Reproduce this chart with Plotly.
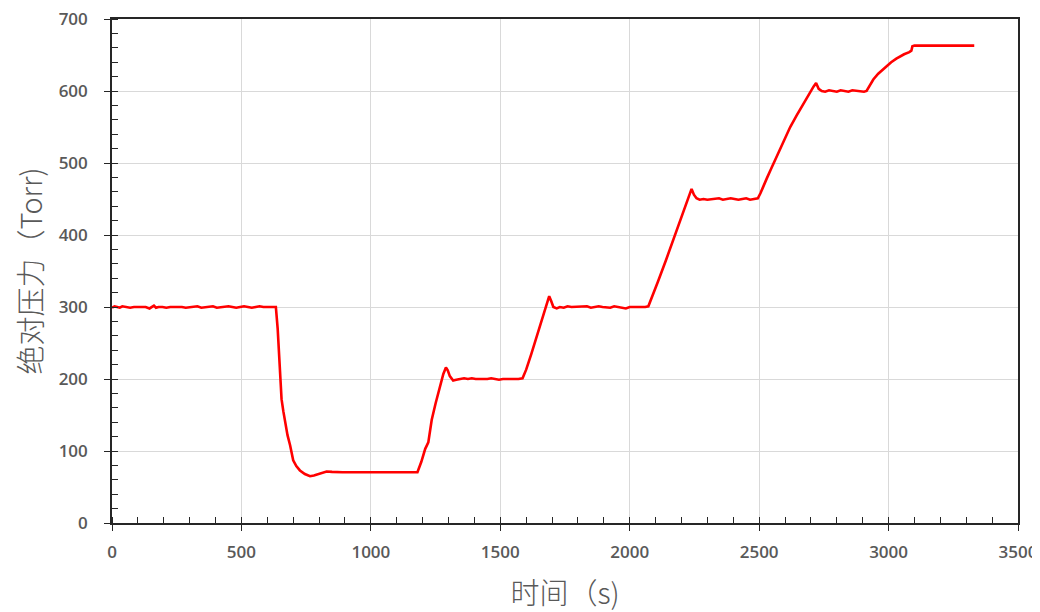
import plotly.graph_objects as go

# time (s)
time_s = [
    0, 10, 20, 30, 40, 55, 70, 85, 100, 115, 130, 145, 155, 162, 170, 180, 195, 210, 225, 240,
    255, 270, 285, 300, 315, 330, 345, 360, 375, 390, 405, 420, 435, 450, 465, 480, 495, 510,
    525, 540, 555, 570, 585, 600, 615, 625, 633,
    640, 645, 649, 655, 662, 668, 678, 688, 700, 712, 726, 745, 765, 780, 795, 812, 829, 850,
    868, 890, 920, 950, 980, 1010, 1040, 1060, 1080, 1100, 1120, 1140, 1160, 1180,
    1195, 1210, 1222, 1228, 1235, 1250, 1265, 1280, 1290, 1297, 1305, 1318, 1330, 1345,
    1360, 1375, 1390, 1405, 1420, 1435, 1450, 1465, 1480, 1495, 1510, 1525, 1540, 1555, 1570, 1586,
    1600, 1620, 1640, 1660, 1680, 1689, 1697, 1705, 1718, 1730, 1745,
    1760, 1775, 1790, 1805, 1820, 1835, 1850, 1865, 1880, 1895, 1910, 1925, 1940, 1955, 1970,
    1985, 2000, 2015, 2030, 2045, 2060, 2072,
    2080, 2110, 2140, 2170, 2200, 2225, 2239, 2248, 2258, 2270,
    2285, 2300, 2315, 2330, 2345, 2360, 2375, 2390, 2405, 2420, 2435, 2450, 2465, 2480, 2495,
    2505, 2515, 2530, 2545, 2560, 2580, 2600, 2620, 2645, 2670, 2695, 2710, 2720, 2730, 2742,
    2755, 2770, 2785, 2800, 2815, 2830, 2845, 2860, 2875, 2890, 2905, 2915,
    2925, 2941, 2960, 2975, 2993, 3010, 3030, 3044, 3060, 3080, 3088, 3092, 3100,
    3120, 3140, 3160, 3180, 3200, 3220, 3240, 3260, 3280, 3300, 3331,
]

# absolute pressure (Torr)
pressure_torr = [
    299, 301, 300, 299, 301, 300, 299, 300, 300, 299, 300, 298, 300, 302, 299, 300, 300, 299, 300, 300,
    301, 300, 299, 300, 300, 301, 299, 300, 300, 301, 299, 300, 300, 301, 300, 299, 300, 301,
    300, 299, 300, 301, 300, 300, 301, 300, 300,
    270, 240, 219, 172, 155, 140, 122, 108, 87, 79, 73, 68, 65, 66, 68, 70, 71.5, 71,
    70.5, 70.5, 70.5, 71, 70.5, 70.5, 71, 70.5, 70.5, 71, 70.5, 70.5, 70.5, 70.5,
    85, 103, 112, 125, 143, 166, 188, 207, 216, 212, 204, 198, 199, 200,
    201, 200, 201, 200, 200, 199, 200, 201, 200, 199, 200, 200, 200, 199, 200, 201,
    213, 235, 258, 281, 304, 315, 308, 300, 298, 300, 299,
    301, 300, 300, 300, 300, 301, 299, 300, 301, 300, 300, 299, 301, 300, 300,
    298, 300, 300, 299, 300, 300, 301,
    308, 336, 365, 395, 425, 450, 464, 456, 451, 449,
    450, 449, 450, 450, 451, 449, 450, 451, 450, 449, 450, 451, 449, 450, 451,
    458, 467, 479, 491, 503, 520, 535, 550, 566, 582, 598, 606, 611, 603, 600,
    599, 601, 600, 599, 601, 600, 599, 601, 600, 600, 599, 600,
    606, 616, 624, 629, 635, 640, 645, 648, 651, 654, 656, 662, 663,
    663, 663.5, 663, 663, 663.5, 663, 663, 663.5, 663, 663, 663,
]

x_ticks = [0, 500, 1000, 1500, 2000, 2500, 3000, 3500]
y_ticks = [0, 100, 200, 300, 400, 500, 600, 700]

tick_font = dict(family="Open Sans", size=17, color="#595959", weight=600)
title_font = dict(family="Noto Sans CJK SC", size=29, color="#595959", weight=300)

fig = go.Figure()
fig.add_trace(go.Scatter(
    x=time_s, y=pressure_torr, mode="lines",
    line=dict(color="#ff0000", width=2.6),
    showlegend=False,
))
# dummy trace for overlay axes (inside major ticks)
fig.add_trace(go.Scatter(x=[None], y=[None], xaxis="x2", yaxis="y2",
                         showlegend=False, hoverinfo="skip"))

fig.update_layout(
    width=1032, height=612,
    margin=dict(l=104, r=22, t=11, b=97),
    paper_bgcolor="white", plot_bgcolor="white",
    xaxis=dict(
        range=[0, 3500], tickvals=x_ticks, ticks="outside", ticklen=6, tickwidth=1.3,
        tickcolor="#262626", automargin=False, ticklabelstandoff=7, ticklabeloverflow="allow",
        showline=True, linecolor="#262626", linewidth=1.6, mirror=True,
        showgrid=True, gridcolor="#d9d9d9", gridwidth=1, zeroline=False,
        minor=dict(dtick=100, ticks="inside", ticklen=6, tickwidth=1.2, tickcolor="#262626", showgrid=False),
        tickfont=tick_font,
        title=dict(text="时间（s)", font=title_font, standoff=21),
    ),
    yaxis=dict(
        range=[0, 700], tickvals=y_ticks, ticks="outside", ticklen=6, tickwidth=1.3,
        tickcolor="#262626", automargin=False, ticklabelstandoff=13, ticklabeloverflow="allow",
        showline=True, linecolor="#262626", linewidth=1.6, mirror=True,
        showgrid=True, gridcolor="#d9d9d9", gridwidth=1, zeroline=False,
        minor=dict(dtick=20, ticks="inside", ticklen=6, tickwidth=1.2, tickcolor="#262626", showgrid=False),
        tickfont=tick_font,
        title=dict(text="绝对压力（Torr)", font=title_font, standoff=23),
    ),
    xaxis2=dict(
        overlaying="x", range=[0, 3500], tickvals=x_ticks, ticks="inside", ticklen=6,
        tickwidth=1.3, tickcolor="#262626", showticklabels=False, showgrid=False,
        zeroline=False, showline=False, side="bottom", automargin=False,
    ),
    yaxis2=dict(
        overlaying="y", range=[0, 700], tickvals=y_ticks, ticks="inside", ticklen=6,
        tickwidth=1.3, tickcolor="#262626", showticklabels=False, showgrid=False,
        zeroline=False, showline=False, side="left", automargin=False,
    ),
)

fig.write_html("out.html")
